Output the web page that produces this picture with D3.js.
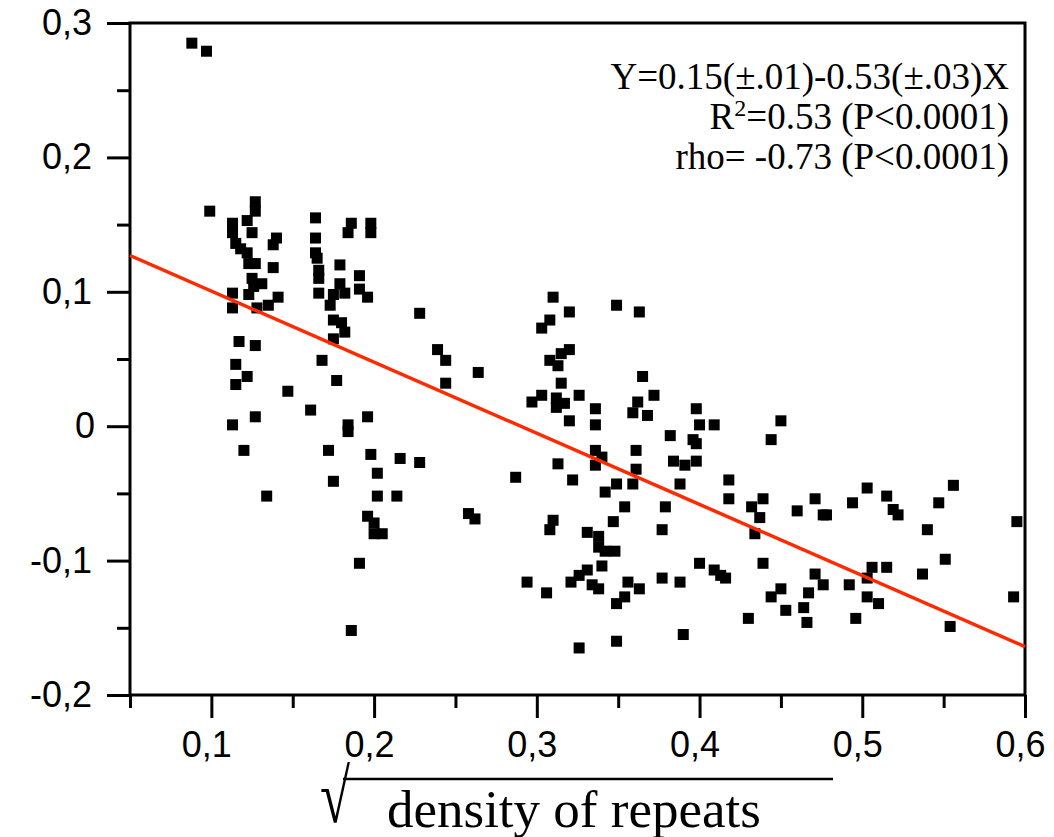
<!DOCTYPE html>
<html><head><meta charset="utf-8">
<script src="https://cdn.jsdelivr.net/npm/d3@7"></script>
<style>body{margin:0;background:#fff}</style>
</head><body><svg id="chart" width="1054" height="837"></svg>
<script>
const xValues = [0.088,0.097,0.099,0.127,0.127,0.113,0.113,0.122,0.125,0.115,0.118,0.122,0.123,0.127,0.140,0.138,0.138,0.125,0.131,0.126,0.113,0.123,0.113,0.128,0.135,0.141,0.117,0.127,0.115,0.122,0.115,0.113,0.127,0.120,0.147,0.164,0.164,0.164,0.165,0.166,0.166,0.166,0.186,0.184,0.198,0.198,0.179,0.191,0.179,0.182,0.175,0.173,0.191,0.196,0.175,0.180,0.182,0.175,0.168,0.177,0.161,0.184,0.184,0.196,0.172,0.198,0.216,0.228,0.228,0.202,0.175,0.134,0.202,0.214,0.196,0.200,0.200,0.205,0.191,0.186,
0.310,0.320,0.308,0.303,0.349,0.363,0.239,0.244,0.244,0.264,0.320,0.315,0.308,0.313,0.315,0.303,0.297,0.312,0.317,0.312,0.326,0.320,0.336,0.336,0.365,0.372,0.362,0.359,0.368,0.398,0.400,0.409,0.382,0.396,0.398,0.336,0.340,0.336,0.361,0.361,0.313,0.287,0.322,0.384,0.391,0.398,0.349,0.342,0.359,0.388,0.418,0.418,0.354,0.379,0.258,0.262,0.310,0.308,0.347,0.377,0.331,0.338,0.338,0.342,0.348,0.340,0.331,0.326,0.321,0.294,0.306,0.334,0.338,0.356,0.363,0.354,0.349,0.377,0.388,0.400,0.409,0.413,0.416,0.326,0.349,0.390,
0.450,0.444,0.439,0.432,0.437,0.434,0.460,0.471,0.476,0.478,0.494,0.503,0.515,0.519,0.522,0.547,0.556,0.540,0.595,0.439,0.471,0.476,0.492,0.506,0.503,0.515,0.537,0.551,0.450,0.444,0.467,0.464,0.453,0.430,0.466,0.503,0.510,0.496,0.554,0.593];
const yValues = [0.285,0.279,0.160,0.167,0.160,0.151,0.144,0.153,0.144,0.136,0.132,0.129,0.121,0.121,0.140,0.135,0.118,0.110,0.106,0.104,0.099,0.098,0.088,0.088,0.090,0.096,0.063,0.060,0.046,0.037,0.031,0.001,0.007,-0.018,0.026,0.155,0.140,0.129,0.125,0.116,0.110,0.099,0.151,0.144,0.151,0.144,0.120,0.112,0.106,0.099,0.098,0.090,0.102,0.096,0.079,0.077,0.070,0.065,0.049,0.034,0.012,0.001,-0.004,0.007,-0.018,-0.021,-0.024,-0.027,0.084,-0.035,-0.041,-0.052,-0.052,-0.052,-0.067,-0.072,-0.080,-0.080,-0.102,-0.152,
0.096,0.085,0.079,0.073,0.090,0.085,0.057,0.049,0.032,0.040,0.057,0.054,0.049,0.045,0.032,0.023,0.018,0.021,0.017,0.014,0.023,0.004,0.013,0.001,0.037,0.023,0.018,0.010,0.008,0.013,0.001,0.001,-0.007,-0.010,-0.013,-0.018,-0.023,-0.029,-0.018,-0.032,-0.028,-0.038,-0.040,-0.026,-0.029,-0.026,-0.043,-0.049,-0.043,-0.043,-0.040,-0.054,-0.060,-0.060,-0.065,-0.069,-0.070,-0.077,-0.071,-0.077,-0.079,-0.082,-0.090,-0.093,-0.093,-0.104,-0.107,-0.111,-0.116,-0.116,-0.124,-0.118,-0.121,-0.116,-0.121,-0.127,-0.132,-0.113,-0.116,-0.102,-0.107,-0.111,-0.113,-0.165,-0.160,-0.155,
0.004,-0.010,-0.054,-0.060,-0.068,-0.080,-0.063,-0.054,-0.066,-0.066,-0.057,-0.046,-0.052,-0.062,-0.066,-0.057,-0.044,-0.077,-0.071,-0.102,-0.110,-0.118,-0.118,-0.105,-0.113,-0.105,-0.110,-0.099,-0.121,-0.127,-0.124,-0.135,-0.137,-0.143,-0.146,-0.127,-0.132,-0.143,-0.149,-0.127];
const xMajorTicks = [0.1, 0.2, 0.3, 0.4, 0.5, 0.6];
const xMinorTicks = [0.05, 0.15, 0.25, 0.35, 0.45, 0.55];
const yMajorTicks = [-0.2, -0.1, 0, 0.1, 0.2, 0.3];
const yMinorTicks = [-0.15, -0.05, 0.05, 0.15, 0.25];
const fitX = [0.05, 0.6];
const fitY = [0.127, -0.164];
const statLines = ["Y=0.15(±.01)-0.53(±.03)X", "R|2|=0.53 (P<0.0001)", "rho= -0.73 (P<0.0001)"];
const xLabel = "density of repeats";

const svg = d3.select("#chart");
const W = 1054, H = 837;
const m = {left: 130, top: 23, right: 29, bottom: 142};
const x = d3.scaleLinear().domain([0.05, 0.6]).range([m.left, W - m.right]);
const y = d3.scaleLinear().domain([-0.2, 0.3]).range([H - m.bottom, m.top]);

const loc = d3.formatLocale({decimal: ",", thousands: ".", grouping: [3], currency: ["", ""], minus: "-"});
const f1 = loc.format(".1f");
const fmt = v => Math.abs(v) < 1e-9 ? "0" : f1(v);

const tickFont = "'Liberation Sans', Arial, sans-serif";

function styleAxis(g) {
  g.select(".domain").remove();
  g.selectAll(".tick line").attr("stroke", "#000").attr("stroke-width", 3);
  g.selectAll(".tick text").attr("fill", "#000").style("font-family", tickFont).style("font-size", "36px");
}

const yg = svg.append("g").attr("transform", `translate(${m.left},0)`)
  .call(d3.axisLeft(y).tickValues(yMajorTicks).tickSize(23).tickPadding(15).tickFormat(fmt)).call(styleAxis);
yg.selectAll(".tick text").filter(d => Math.abs(d) < 1e-9).attr("dx", 3);
svg.append("g").attr("transform", `translate(${m.left},0)`)
  .call(d3.axisLeft(y).tickValues(yMinorTicks).tickSize(13).tickFormat("")).call(styleAxis);
const xg = svg.append("g").attr("transform", `translate(0,${H - m.bottom})`)
  .call(d3.axisBottom(x).tickValues(xMajorTicks).tickSize(23).tickPadding(13).tickFormat(fmt)).call(styleAxis);
xg.selectAll(".tick text").attr("dx", -5);
svg.append("g").attr("transform", `translate(0,${H - m.bottom})`)
  .call(d3.axisBottom(x).tickValues(xMinorTicks).tickSize(13).tickFormat("")).call(styleAxis);

svg.append("rect")
  .attr("x", x(0.05)).attr("y", y(0.3))
  .attr("width", x(0.6) - x(0.05)).attr("height", y(-0.2) - y(0.3))
  .attr("fill", "none").attr("stroke", "#000").attr("stroke-width", 3);

const pts = xValues.map((v, i) => [v, yValues[i]]);
const s = 11;
svg.append("g").selectAll("rect").data(pts).join("rect")
  .attr("x", d => x(d[0]) - s / 2).attr("y", d => y(d[1]) - s / 2)
  .attr("width", s).attr("height", s).attr("fill", "#000");

const fit = fitX.map((v, i) => [v, fitY[i]]);
svg.append("path").datum(fit)
  .attr("d", d3.line().x(d => x(d[0])).y(d => y(d[1])))
  .attr("fill", "none").attr("stroke", "#ff2a00").attr("stroke-width", 3.5);

const serif = "'Liberation Serif', 'Times New Roman', serif";
const ann = svg.append("g").style("font-family", serif).style("font-size", "37px").attr("fill", "#000");
statLines.forEach((line, i) => {
  const t = ann.append("text").attr("x", 1009).attr("y", 89 + i * 40).attr("text-anchor", "end");
  line.split("|").forEach((part, j) => {
    if (j % 2 === 1) {
      t.append("tspan").attr("dy", -13).style("font-size", "24px").text(part);
    } else {
      t.append("tspan").attr("dy", j > 0 ? 13 : 0).text(part);
    }
  });
});

const lab = svg.append("g").style("font-family", serif).attr("fill", "#000");
lab.append("text").attr("transform", "translate(320,822) scale(0.72,1)").style("font-size", "76px").text("√");
lab.append("text").attr("x", 387).attr("y", 827).style("font-size", "53px").text(xLabel);
lab.append("line").attr("x1", 343).attr("x2", 833).attr("y1", 779).attr("y2", 779)
  .attr("stroke", "#000").attr("stroke-width", 2.5);
</script></body></html>
